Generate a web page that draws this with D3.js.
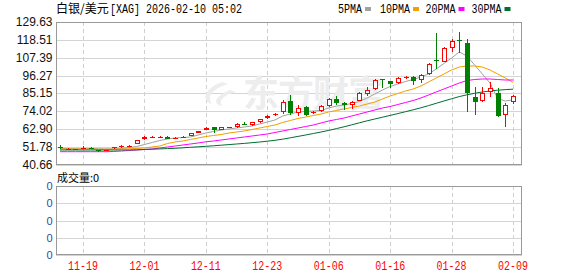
<!DOCTYPE html>
<html><head><meta charset="utf-8">
<script src="https://cdn.jsdelivr.net/npm/d3@7"></script>
<style>html,body{margin:0;padding:0;background:#fff}svg{display:block}</style>
</head><body>
<svg id="chart" width="578" height="276"></svg>
<script>
const dates = ["11-14","11-17","11-18","11-19","11-20","11-21","11-24","11-25","11-26","11-27","11-28",
"12-01","12-02","12-03","12-04","12-05","12-08","12-09","12-10","12-11","12-12","12-15","12-16","12-17","12-18","12-19","12-22","12-23","12-24","12-26","12-29","12-30","12-31",
"01-02","01-05","01-06","01-07","01-08","01-09","01-12","01-13","01-14","01-15","01-16","01-19","01-20","01-21","01-22","01-23","01-26","01-27","01-28","01-29","01-30",
"02-02","02-03","02-04","02-05","02-06","02-09"];
const open  = [52.0,50.6,50.4,51.0,51.4,50.0,49.8,51.0,51.67,52.3,53.73,56.65,57.9,58.0,58.3,57.4,58.3,58.89,60.75,62.44,64.1,62.44,64.2,64.1,66.3,65.55,67.4,69.7,72.0,73.82,80.67,72.83,76.56,73.4,74.26,77.37,81.72,79.0,78.0,80.67,84.65,87.76,94.1,92.9,91.5,95.1,95.6,93.54,97.3,106.2,104.9,113.3,118.2,116.4,83.15,80.48,86.27,85.3,71.77,79.67];
const high  = [52.9,51.0,50.9,52.3,52.0,50.2,50.3,52.0,53.0,53.2,56.5,58.5,58.4,58.5,58.5,57.8,58.5,60.6,62.0,64.3,64.6,64.4,64.5,66.5,67.2,67.6,69.4,71.6,73.2,81.1,84.2,78.0,77.2,74.5,78.0,82.3,83.6,80.0,80.5,86.2,89.0,94.2,94.3,93.2,95.2,96.2,96.0,97.2,104.0,122.6,114.3,119.05,123.2,119.05,89.4,89.4,92.1,88.75,79.0,84.2];
const low   = [50.6,50.3,50.2,50.6,50.8,48.8,49.6,50.8,51.4,52.0,53.5,56.4,57.2,57.4,56.6,56.8,57.6,58.6,60.5,62.2,60.7,62.2,63.6,63.8,65.3,65.2,67.1,69.4,71.4,72.4,71.77,71.15,71.2,72.2,73.8,77.0,78.0,74.9,75.3,80.2,83.6,87.3,88.4,88.75,91.0,94.0,90.4,91.5,96.6,100.4,104.6,111.15,110.2,73.8,71.8,79.8,83.15,70.7,64.5,78.4];
const close = [51.8,50.7,50.6,51.3,51.1,49.6,50.0,51.6,52.67,52.7,56.22,57.9,58.3,58.3,56.85,57.6,58.0,60.39,61.8,63.87,62.44,64.1,64.0,66.17,66.0,67.23,69.1,71.3,72.3,79.67,72.83,75.94,71.77,73.8,77.37,81.72,79.4,78.0,80.05,85.64,87.32,93.54,93.6,90.87,94.6,95.4,93.1,96.65,103.5,105.8,113.3,117.8,117.8,85.3,79.67,85.3,88.38,71.33,77.99,83.78];
const ma5  = [50.93,50.93,50.74,50.74,50.93,50.74,50.62,50.62,50.93,51.55,52.17,53.41,54.66,55.90,56.84,57.46,57.77,58.08,59.33,60.57,61.50,62.44,63.06,63.68,64.30,64.93,66.17,67.41,68.66,71.15,72.39,73.64,73.95,74.26,74.57,76.12,77.37,77.99,78.92,80.17,82.35,84.83,87.32,89.50,91.06,92.61,93.85,95.41,97.28,100.39,103.81,107.23,110.97,108.48,102.88,97.28,91.68,82.03,80.48,81.23];
const ma10 = [50.62,50.62,50.62,50.62,50.62,50.43,50.43,50.62,50.62,50.74,50.93,51.24,51.86,52.48,54.04,54.97,55.59,56.53,57.46,58.39,59.01,59.64,60.57,61.19,61.82,62.75,63.68,64.61,65.55,67.10,68.35,69.59,70.53,71.46,72.39,73.64,74.57,75.50,76.43,77.37,78.61,79.86,81.72,83.59,85.14,86.70,87.94,89.81,92.30,94.79,97.28,99.77,101.63,102.26,102.26,101.63,99.77,97.28,94.79,91.99];
const ma20 = [48.94,48.94,48.94,48.94,48.94,48.94,48.94,49.06,49.37,49.68,50.00,50.31,50.62,51.24,51.86,52.48,53.10,53.73,54.35,55.10,55.59,56.22,56.84,57.46,58.08,58.70,59.33,59.95,60.88,61.82,62.75,63.68,64.61,65.55,66.79,68.04,68.97,69.90,71.15,72.39,73.64,74.88,76.12,77.06,78.30,79.55,80.79,82.35,84.21,86.08,87.94,89.81,91.68,93.23,93.85,94.17,94.17,93.85,93.54,93.54];
const ma30 = [50.00,50.00,50.00,50.00,50.00,50.00,50.00,50.00,50.00,50.00,50.12,50.31,50.49,50.68,50.86,51.05,51.36,51.67,51.98,52.29,52.61,52.98,53.35,53.73,54.10,54.54,54.97,55.47,56.03,56.71,57.58,58.45,59.33,60.26,61.19,62.19,63.31,64.43,65.67,66.92,68.16,69.28,70.40,71.52,72.64,73.82,75.00,76.25,77.62,79.05,80.48,81.85,83.22,84.34,85.27,86.08,86.70,87.20,87.57,87.82];
const yTicks = [40.66,51.78,62.90,74.02,85.15,96.27,107.39,118.51,129.63];
const xTickLabels = ["11-19","12-01","12-11","12-23","01-06","01-16","01-28","02-09"];
const volTicks = [0,0,0,0,0];
const maNames = ["5PMA","10PMA","20PMA","30PMA"];
const maColors = ["#a0a0a0","#f0a000","#ff00ff","#006e30"];

const svg = d3.select("#chart");
const L = 56, R = 522, T = 22, B = 165, VT = 186, VB = 255;
const x = d3.scaleLinear().domain([0, dates.length - 1]).range([60, 513]);
const y = d3.scaleLinear().domain([yTicks[0], yTicks[yTicks.length-1]]).range([B, T]);
const yv = d3.scaleLinear().domain([0, volTicks.length - 1]).range([VB, VT]);
const px = v => Math.round(v) + 0.5;
const mono = "'Liberation Mono','DejaVu Sans Mono',monospace";
const cjk = "'Noto Sans CJK SC','Noto Sans',sans-serif";
const sans = "'Liberation Sans',Arial,sans-serif";

// title
svg.append("text").attr("x", 56).attr("y", 13).attr("font-family", cjk).attr("font-size", 12).attr("fill", "#000").text("白银/美元");
svg.append("text").attr("x", 110).attr("y", 13).attr("font-family", mono).attr("font-size", 12)
  .attr("textLength", 132).attr("lengthAdjust", "spacingAndGlyphs").attr("fill", "#000").text("[XAG] 2026-02-10 05:02");

// legend
const legX = [338, 380, 425.5, 471.5];
maNames.forEach((n, k) => {
  svg.append("text").attr("x", legX[k]).attr("y", 12.5).attr("font-family", mono).attr("font-size", 12)
    .attr("textLength", n.length * 6).attr("lengthAdjust", "spacingAndGlyphs").attr("fill", "#000").text(n);
  svg.append("rect").attr("x", legX[k] + n.length * 6 + 3).attr("y", 7).attr("width", 6).attr("height", 4).attr("fill", maColors[k]);
});

// main grid
const tickIdx = xTickLabels.map(l => dates.indexOf(l));
const gMain = svg.append("g");
yTicks.forEach(t => {
  gMain.append("line").attr("x1", L).attr("x2", R).attr("y1", px(y(t))).attr("y2", px(y(t)))
    .attr("stroke", "#d4d4d4").attr("stroke-width", 1);
});
[[T, B], [VT, VB]].forEach(([a, b]) => {
  tickIdx.forEach(i => {
    gMain.append("line").attr("x1", px(x(i))).attr("x2", px(x(i))).attr("y1", a).attr("y2", b)
      .attr("stroke", "#d0d0d0").attr("stroke-dasharray", "4,3");
  });
});
volTicks.forEach((t, k) => {
  gMain.append("line").attr("x1", L).attr("x2", R).attr("y1", px(yv(k))).attr("y2", px(yv(k)))
    .attr("stroke", "#d4d4d4");
});

// watermark
svg.append("text").attr("x", 243).attr("y", 107).attr("font-family", cjk).attr("font-weight", "bold")
  .attr("font-size", 36).attr("fill", "#ededed").attr("letter-spacing", -1).text("东方财富");
svg.append("path").attr("d", "M222,82 C205,88 200,100 212,104 C206,96 214,88 228,84 Z M230,90 C215,96 212,104 222,106 C218,100 224,95 236,92 Z")
  .attr("fill", "#ededed");

// panel borders
svg.append("rect").attr("x", L + 0.5).attr("y", T + 0.5).attr("width", R - L - 1).attr("height", B - T - 1)
  .attr("fill", "none").attr("stroke", "#999");
svg.append("rect").attr("x", L + 0.5).attr("y", VT + 0.5).attr("width", R - L - 1).attr("height", VB - VT - 1)
  .attr("fill", "none").attr("stroke", "#999");

// y labels
yTicks.forEach(t => {
  svg.append("text").attr("x", 52.5).attr("y", y(t) + 4).attr("text-anchor", "end")
    .attr("font-family", sans).attr("font-size", 12).attr("fill", "#111").text(t.toFixed(2));
});
volTicks.forEach((t, k) => {
  svg.append("text").attr("x", 52.5).attr("y", yv(k) + 4).attr("text-anchor", "end")
    .attr("font-family", sans).attr("font-size", 11).attr("fill", "#1f4f9f").text(String(t));
});
svg.append("text").attr("x", 57).attr("y", 182).attr("font-family", cjk).attr("font-size", 11)
  .attr("fill", "#000").text("成交量:" + volTicks[0]);

// x labels
tickIdx.forEach((i, k) => {
  svg.append("text").attr("x", x(i)).attr("y", 270).attr("text-anchor", "middle")
    .attr("font-family", mono).attr("font-size", 12).attr("textLength", 30).attr("lengthAdjust", "spacingAndGlyphs")
    .attr("fill", "#ff0000").text(xTickLabels[k]);
});

// MA lines
const line = d3.line().x((d, i) => x(i)).y(d => y(d));
[ma5, ma10, ma20, ma30].forEach((arr, k) => {
  svg.append("path").datum(arr).attr("d", line).attr("fill", "none")
    .attr("stroke", maColors[k]).attr("stroke-width", 1);
});

// candles
const gC = svg.append("g");
dates.forEach((d, i) => {
  const cx = px(x(i));
  const up = close[i] >= open[i];
  const col = up ? "#ff0000" : "#008000";
  const yt = Math.round(y(Math.max(open[i], close[i])));
  const yb = Math.round(y(Math.min(open[i], close[i])));
  gC.append("line").attr("x1", cx).attr("x2", cx).attr("y1", Math.round(y(high[i]))).attr("y2", Math.round(y(low[i])))
    .attr("stroke", col).attr("stroke-width", 1);
  if (yb - yt < 2) {
    gC.append("rect").attr("x", cx - 2.5).attr("y", yt).attr("width", 5).attr("height", Math.max(1, yb - yt)).attr("fill", col);
  } else if (up) {
    gC.append("rect").attr("x", cx - 2).attr("y", yt + 0.5).attr("width", 4).attr("height", yb - yt - 1)
      .attr("fill", "#fff").attr("stroke", col).attr("stroke-width", 1);
  } else {
    gC.append("rect").attr("x", cx - 2.5).attr("y", yt).attr("width", 5).attr("height", yb - yt).attr("fill", col);
  }
});
</script>
</body></html>
